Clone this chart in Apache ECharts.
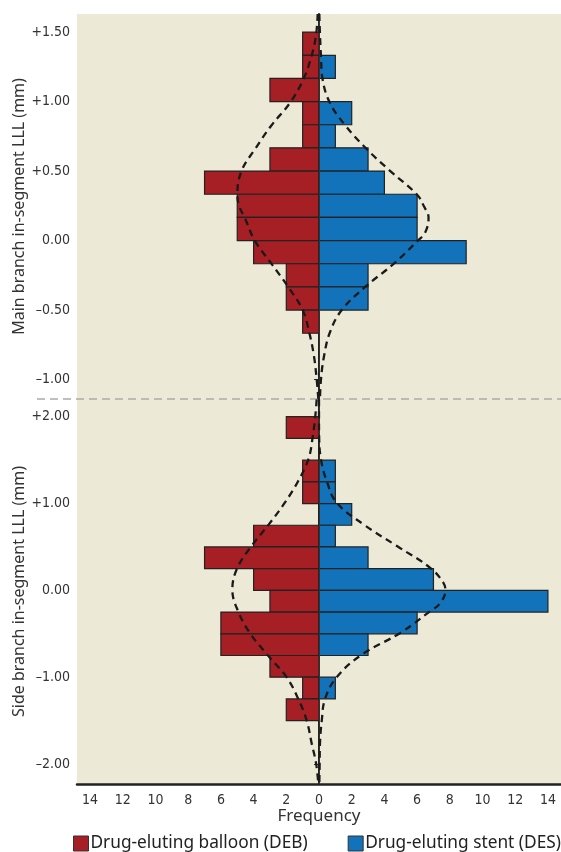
<!DOCTYPE html>
<html lang="en">

<head>
    <meta charset="UTF-8">
    <title>LLL histograms</title>
    <style>
        html, body { margin: 0; padding: 0; background: #fff; }
    </style>
</head>

<body>
    <div id="main" style="width: 561px; height: 852px"></div>
    <script src="https://cdn.jsdelivr.net/npm/echarts@6/dist/echarts.min.js"></script>
    <script type="text/javascript">
        // bin edges (mm), top to bottom, and counts per bin
        var mainEdges = [1.5, 1.333, 1.167, 1.0, 0.833, 0.667, 0.5, 0.333, 0.167, 0, -0.167, -0.333, -0.5, -0.667];
        var mainDEB = [1, 1, 3, 1, 1, 3, 7, 5, 5, 4, 2, 2, 1];
        var mainDES = [0, 1, 0, 2, 1, 3, 4, 6, 6, 9, 3, 3, 0];

        var sideEdges = [2.0, 1.75, 1.5, 1.25, 1.0, 0.75, 0.5, 0.25, 0, -0.25, -0.5, -0.75, -1.0, -1.25, -1.5];
        var sideDEB = [2, 0, 1, 1, 0, 4, 7, 4, 3, 6, 6, 3, 1, 2];
        var sideDES = [0, 0, 1, 1, 2, 1, 3, 7, 14, 6, 3, 0, 1, 0];

        // fitted curves: [mm, frequency]
        var mainDEBCurve = [[1.63, 0.08], [1.48, 0.18], [1.33, 0.45], [1.16, 0.96], [0.99, 1.78], [0.83, 2.9], [0.66, 3.9], [0.5, 4.74], [0.33, 4.99], [0.25, 4.89], [0.164, 4.54], [0, 3.93], [-0.168, 2.9], [-0.334, 1.88], [-0.5, 1.0], [-0.66, 0.6], [-0.83, 0.31], [-1.0, 0.14], [-1.14, 0.04]];
        var mainDESCurve = [[1.63, 0.02], [1.48, 0.06], [1.33, 0.12], [1.16, 0.22], [0.99, 0.67], [0.83, 1.6], [0.66, 2.9], [0.5, 4.36], [0.33, 6.0], [0.25, 6.4], [0.164, 6.7], [0.06, 6.5], [0, 6.05], [-0.168, 4.56], [-0.334, 2.82], [-0.5, 1.39], [-0.66, 0.67], [-0.83, 0.31], [-1.0, 0.12], [-1.14, 0.06]];
        var sideDEBCurve = [[2.2, 0.14], [2.0, 0.23], [1.76, 0.39], [1.51, 0.65], [1.26, 1.27], [1.01, 2.09], [0.76, 3.07], [0.51, 4.13], [0.26, 4.99], [0.01, 5.3], [-0.24, 4.95], [-0.49, 4.23], [-0.74, 3.17], [-1.0, 1.98], [-1.25, 1.27], [-1.5, 0.75], [-1.76, 0.45], [-1.99, 0.18], [-2.23, 0.04]];
        var sideDESCurve = [[2.2, 0.0], [2.0, 0.0], [1.76, 0.01], [1.51, 0.12], [1.26, 0.47], [1.01, 1.08], [0.76, 2.72], [0.51, 4.77], [0.26, 6.8], [0.09, 7.6], [0, 7.73], [-0.15, 7.4], [-0.24, 6.8], [-0.49, 4.97], [-0.74, 2.62], [-1.0, 1.08], [-1.25, 0.37], [-1.5, 0.17], [-1.76, 0.06], [-1.99, 0.04], [-2.23, 0.02]];

        var freqTicks = [-14, -12, -10, -8, -6, -4, -2, 0, 2, 4, 6, 8, 10, 12, 14];
        var mainTicks = [-1, -0.5, 0, 0.5, 1, 1.5];
        var sideTicks = [-2, -1, 0, 1, 2];

        var RED = '#a51f25';
        var BLUE = '#1273bb';
        var BG = '#ece9d6';
        var NARROW = '"Liberation Sans Narrow", "DejaVu Sans Condensed", sans-serif';
        var SANS = '"Noto Sans", "Open Sans", sans-serif';

        var myChart = echarts.init(document.getElementById('main'));

        // build [lo, hi, signedCount] rows, skipping empty bins
        function binRows(edges, counts, sign) {
            var rows = [];
            for (var i = 0; i < counts.length; i++) {
                if (counts[i] > 0) rows.push([edges[i + 1], edges[i], sign * counts[i]]);
            }
            return rows;
        }

        function curveRows(pts, sign) {
            return pts.map(function(p) { return [sign * p[1], p[0]]; });
        }

        function renderBar(params, api) {
            var lo = api.value(0), hi = api.value(1), n = api.value(2);
            var a = api.coord([0, hi]);
            var b = api.coord([n, lo]);
            return {
                type: 'rect',
                shape: {
                    x: Math.min(a[0], b[0]),
                    y: a[1],
                    width: Math.abs(b[0] - a[0]),
                    height: b[1] - a[1]
                },
                style: { fill: api.visual('color'), stroke: '#222', lineWidth: 1.2 }
            };
        }

        function mmLabel(v) {
            if (v > 0) return '+' + v.toFixed(2);
            if (v < 0) return '\u2013' + Math.abs(v).toFixed(2);
            return '0.00';
        }

        function yAxisOpt(idx, min, max, ticks, name) {
            return {
                type: 'value',
                gridIndex: idx,
                min: min,
                max: max,
                name: name,
                nameLocation: 'middle',
                nameGap: 50,
                nameMoveOverlap: false,
                nameTextStyle: { fontFamily: SANS, fontSize: 16, color: '#333' },
                axisLine: { show: true, lineStyle: { color: '#222', width: 2 } },
                axisTick: { show: true, length: 5, customValues: ticks, lineStyle: { color: '#222', width: 1 } },
                axisLabel: {
                    customValues: ticks,
                    margin: 7,
                    fontFamily: NARROW,
                    fontSize: 14,
                    color: '#333',
                    formatter: mmLabel
                },
                splitLine: { show: false }
            };
        }

        function barSeries(name, color, gi, rows) {
            return {
                name: name,
                type: 'custom',
                xAxisIndex: gi,
                yAxisIndex: gi,
                renderItem: renderBar,
                itemStyle: { color: color },
                encode: { x: 2, y: [0, 1] },
                data: rows,
                z: 3
            };
        }

        function curveSeries(gi, rows, withZero) {
            var s = {
                name: 'curve',
                type: 'line',
                xAxisIndex: gi,
                yAxisIndex: gi,
                data: rows,
                smooth: 0.4,
                showSymbol: false,
                lineStyle: { color: '#1a1a1a', width: 2.3, type: [7, 5] },
                z: 5
            };
            if (withZero) {
                s.markLine = {
                    silent: true,
                    symbol: 'none',
                    label: { show: false },
                    lineStyle: { color: '#333', width: 1, type: 'solid' },
                    data: [{ xAxis: 0 }]
                };
            }
            return s;
        }

        var DEBNAME = 'Drug-eluting balloon (DEB)';
        var DESNAME = 'Drug-eluting stent (DES)';

        var option = {
            animation: false,
            backgroundColor: '#fff',
            grid: [
                { left: 77, right: 0, top: 14, height: 385, outerBoundsMode: 'none', containLabel: false, show: true, backgroundColor: BG, borderWidth: 0 },
                { left: 77, right: 0, top: 399, height: 385, outerBoundsMode: 'none', containLabel: false, show: true, backgroundColor: BG, borderWidth: 0 }
            ],
            xAxis: [
                { type: 'value', gridIndex: 0, min: -14.8, max: 14.8, show: false, splitLine: { show: false } },
                {
                    type: 'value',
                    gridIndex: 1,
                    min: -14.8,
                    max: 14.8,
                    name: 'Frequency',
                    nameLocation: 'middle',
                    nameGap: 20,
                    nameTextStyle: { fontFamily: SANS, fontSize: 17, color: '#333' },
                    axisLine: { show: true, onZero: false, lineStyle: { color: '#222', width: 2.5 } },
                    axisTick: { show: false },
                    axisLabel: {
                        customValues: freqTicks,
                        margin: 9,
                        fontFamily: NARROW,
                        fontSize: 14,
                        color: '#333',
                        formatter: function(v) { return String(Math.abs(v)); }
                    },
                    splitLine: { show: false }
                }
            ],
            yAxis: [
                yAxisOpt(0, -1.14, 1.63, mainTicks, 'Main branch in-segment LLL (mm)'),
                yAxisOpt(1, -2.23, 2.204, sideTicks, 'Side branch in-segment LLL (mm)')
            ],
            legend: {
                left: 73,
                top: 835,
                padding: 0,
                itemGap: 40,
                itemWidth: 15,
                itemHeight: 15,
                textStyle: { fontFamily: SANS, fontSize: 17.3, color: '#222', padding: [0, 0, 0, -3] },
                itemStyle: { borderColor: '#333', borderWidth: 1 },
                data: [{ name: DEBNAME, icon: 'rect' }, { name: DESNAME, icon: 'rect' }]
            },
            graphic: [{
                type: 'line',
                shape: { x1: 37, y1: 399, x2: 561, y2: 399 },
                style: { stroke: '#aaa', lineWidth: 1.3, lineDash: [8, 5] },
                z: 1
            }],
            series: [
                barSeries(DEBNAME, RED, 0, binRows(mainEdges, mainDEB, -1)),
                barSeries(DESNAME, BLUE, 0, binRows(mainEdges, mainDES, 1)),
                barSeries(DEBNAME, RED, 1, binRows(sideEdges, sideDEB, -1)),
                barSeries(DESNAME, BLUE, 1, binRows(sideEdges, sideDES, 1)),
                curveSeries(0, curveRows(mainDEBCurve, -1), true),
                curveSeries(0, curveRows(mainDESCurve, 1), false),
                curveSeries(1, curveRows(sideDEBCurve, -1), true),
                curveSeries(1, curveRows(sideDESCurve, 1), false)
            ]
        };
        myChart.setOption(option);
    </script>

</body>

</html>
